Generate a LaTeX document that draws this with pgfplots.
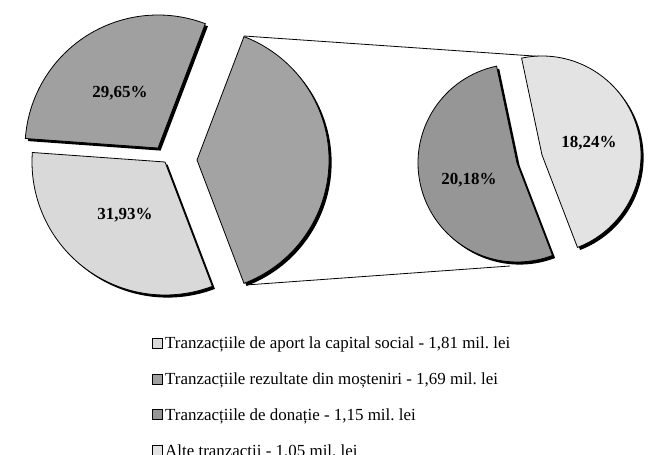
\documentclass[border=0pt]{standalone}
\usepackage{pgfplots}
\pgfplotsset{compat=1.18}
\usepackage{fontspec}
\setmainfont{Liberation Serif}
\frenchspacing
\definecolor{cCap}{HTML}{D9D9D9}
\definecolor{cMost}{HTML}{A0A0A0}
\definecolor{cOther}{HTML}{A3A3A3}
\definecolor{cDon}{HTML}{969696}
\definecolor{cAlte}{HTML}{E3E3E3}
% data (percent of total)
\def\vCap{31.93}\def\vMost{29.65}\def\vDon{20.18}\def\vAlte{18.24}
\newcommand\slice[7]{% #1 x, #2 y (vertex), #3 r, #4 a1, #5 a2, #6 colour
  \fill[black] ([shift={(2.6bp,-2.6bp)}]axis cs:#1,#2) -- ++(#4:#3bp) arc[start angle=#4, end angle=#5, radius=#3bp] -- cycle;
  \filldraw[fill=#6, draw=black, line width=0.8bp] (axis cs:#1,#2) -- ++(#4:#3bp) arc[start angle=#4, end angle=#5, radius=#3bp] -- cycle;
}
\begin{document}
\begin{tikzpicture}
\pgfmathsetmacro\oth{\vDon+\vAlte}
\pgfmathsetmacro\aA{-\oth*1.8}
\pgfmathsetmacro\aB{\oth*1.8}
\pgfmathsetmacro\aC{\aB+\vMost*3.6}
\pgfmathsetmacro\aD{\aC+\vCap*3.6}
\pgfmathsetmacro\bA{-69.0}
\pgfmathsetmacro\bB{\bA+\vAlte/\oth*360}
\pgfmathsetmacro\bC{\bA+360}
\useasboundingbox (0,0) rectangle (651bp,455bp);
\begin{axis}[at={(0,0)},anchor=south west,scale only axis,width=651bp,height=455bp,
  xmin=0,xmax=651,ymin=0,ymax=455,hide axis,clip=false]
% connector lines
\draw[black, line width=0.8bp] (axis cs:244,419) -- (axis cs:548,398);
\draw[black, line width=0.8bp] (axis cs:246,170) -- (axis cs:510,189);
% first pie
\slice{158}{307}{133}{\aB}{\aC}{cMost}{}
\slice{165}{293}{133}{\aC}{\aD}{cCap}{}
\slice{197}{295}{132}{\aA}{\aB}{cOther}{}
% second pie
\slice{542}{300}{99}{\bA}{\bB}{cAlte}{}
\slice{517}{292}{99}{\bB}{\bC}{cDon}{}
% labels
\begin{scope}[every node/.style={font=\bfseries\fontsize{17}{20}\selectfont}]
\node at (axis cs:120,362) {29,65\%};
\node at (axis cs:125,240) {31,93\%};
\node at (axis cs:469,275) {20,18\%};
\node at (axis cs:589,312) {18,24\%};
\end{scope}
% legend
\begin{scope}[every node/.style={font=\fontsize{17}{20}\selectfont, anchor=base west, inner sep=0pt}]
\filldraw[fill=cCap, draw=black, line width=0.6bp] (axis cs:152,106.9) rectangle (axis cs:162,116.9);
\node at (axis cs:165,106.4) {Tranzacțiile de aport la capital social - 1,81 mil. lei};
\filldraw[fill=cMost, draw=black, line width=0.6bp] (axis cs:152,71.1) rectangle (axis cs:162,81.1);
\node at (axis cs:165,70.6) {Tranzacțiile rezultate din moșteniri - 1,69 mil. lei};
\filldraw[fill=cDon, draw=black, line width=0.6bp] (axis cs:152,35.3) rectangle (axis cs:162,45.3);
\node at (axis cs:165,34.8) {Tranzacțiile de donație - 1,15 mil. lei};
\filldraw[fill=cAlte, draw=black, line width=0.6bp] (axis cs:152,-0.5) rectangle (axis cs:162,9.5);
\node at (axis cs:165,-1) {Alte tranzacții - 1,05 mil. lei};
\end{scope}
\end{axis}
\end{tikzpicture}
\end{document}
